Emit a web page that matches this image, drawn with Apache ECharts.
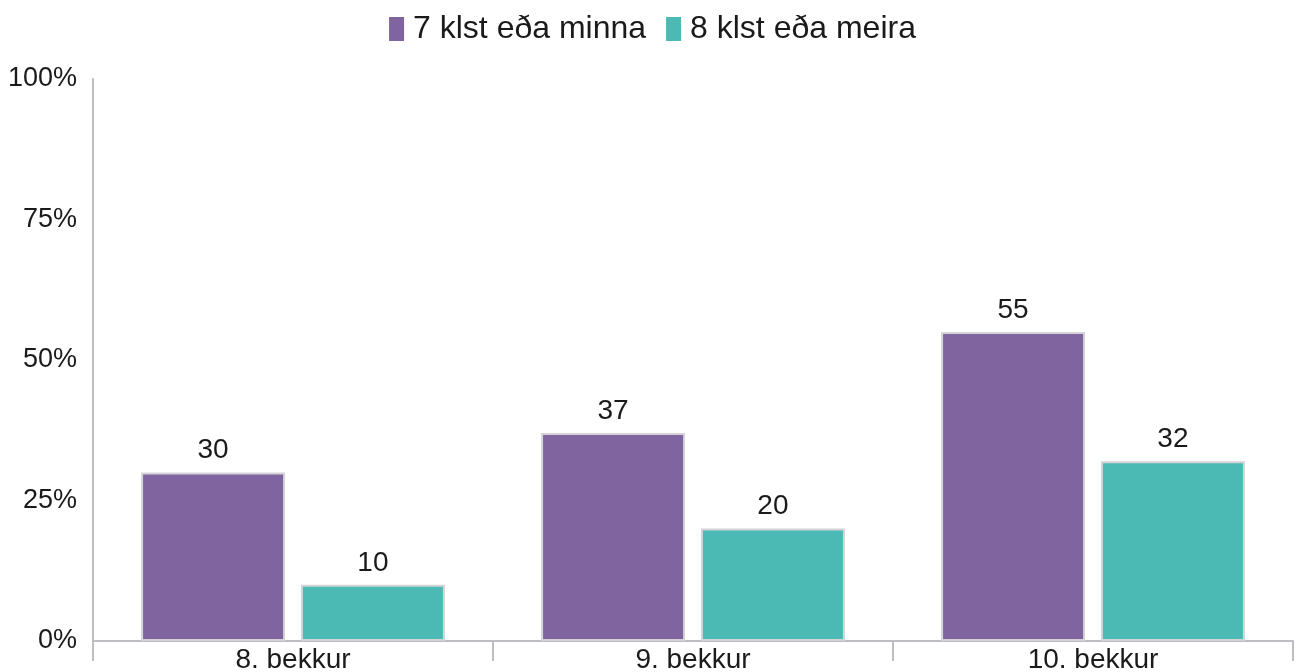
<!DOCTYPE html>
<html>
<head>
<meta charset="utf-8">
<script src="https://cdn.jsdelivr.net/npm/echarts@6/dist/echarts.min.js"></script>
<style>
  html, body { margin: 0; padding: 0; background: #fff; }
  #main { width: 1305px; height: 672px; }
</style>
</head>
<body>
<div id="main"></div>
<script>
var categories = ['8. bekkur', '9. bekkur', '10. bekkur'];
var seriesNames = ['7 klst eða minna', '8 klst eða meira'];
var lessSleep = [30, 37, 55];
var moreSleep = [10, 20, 32];
var yTicks = [0, 25, 50, 75, 100];

var font = 'Liberation Sans, Arial, sans-serif';
var axisGray = '#bdbdc2';
var textColor = '#1a1a1a';

var myChart = echarts.init(document.getElementById('main'));

var option = {
    animation: false,
    textStyle: { fontFamily: font },
    color: ['#7f64a0', '#4bbab5'],
    legend: {
        top: 8,
        left: 'center',
        itemWidth: 15,
        itemHeight: 24,
        itemGap: 20,
        icon: 'rect',
        itemStyle: { borderWidth: 0 },
        textStyle: { fontSize: 32, color: textColor, fontFamily: font, padding: [0, 0, 0, 4] },
        data: seriesNames
    },
    grid: {
        left: 93,
        right: 12,
        top: 79,
        bottom: 31,
        outerBoundsMode: 'none'
    },
    xAxis: {
        type: 'category',
        data: categories,
        axisLine: { lineStyle: { color: axisGray, width: 2 } },
        axisTick: {
            show: true,
            alignWithLabel: false,
            length: 20,
            lineStyle: { color: axisGray, width: 2 }
        },
        axisLabel: { fontSize: 28, color: textColor, margin: 5, fontFamily: font }
    },
    yAxis: {
        type: 'value',
        min: yTicks[0],
        max: yTicks[yTicks.length - 1],
        interval: 25,
        splitLine: { show: false },
        axisLine: { show: true, lineStyle: { color: axisGray, width: 2 } },
        axisTick: { show: false },
        axisLabel: {
            fontSize: 27,
            color: textColor,
            margin: 16,
            fontFamily: font,
            formatter: '{value}%'
        }
    },
    series: [
        {
            name: seriesNames[0],
            type: 'bar',
            data: lessSleep,
            barWidth: '36%',
            barGap: '11%',
            itemStyle: { borderColor: '#d4d4d8', borderWidth: 2 },
            label: { show: true, position: 'top', fontSize: 28, color: textColor, distance: 8, fontFamily: font }
        },
        {
            name: seriesNames[1],
            type: 'bar',
            data: moreSleep,
            barWidth: '36%',
            barGap: '11%',
            itemStyle: { borderColor: '#d4d4d8', borderWidth: 2 },
            label: { show: true, position: 'top', fontSize: 28, color: textColor, distance: 8, fontFamily: font }
        }
    ]
};

myChart.setOption(option);
</script>
</body>
</html>
